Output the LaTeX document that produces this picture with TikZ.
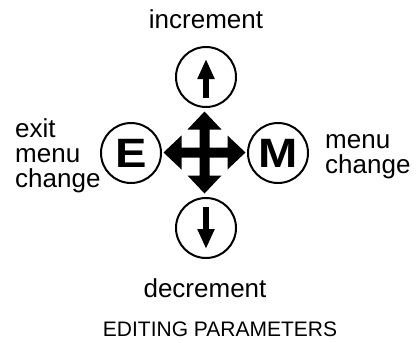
\documentclass[tikz,border=0pt]{standalone}
\usepackage{fontspec}
\usepackage{graphicx}
\setmainfont{Liberation Sans}
\usetikzlibrary{arrows.meta}
\begin{document}
\begin{tikzpicture}[x=1bp,y=-1bp,
  keycirc/.style={circle,draw,line width=2bp,minimum size=60bp,inner sep=0pt},
  keyletter/.style={font=\fontsize{41bp}{41bp}\selectfont\bfseries},
  lbl/.style={font=\fontsize{26bp}{25bp}\selectfont,inner sep=0pt},
  caption/.style={font=\fontsize{21bp}{21bp}\selectfont,inner sep=0pt},
  smallarrow/.style={line width=6bp,-{Triangle[length=20bp,width=16bp]}}]
\useasboundingbox (0,0) rectangle (420,343);

% key circles
\node[keycirc] (up) at (206,77) {};
\node[keycirc] (down) at (206,228) {};
\node[keycirc,keyletter] (E) at (131,153) {\scalebox{1.15}[1]{E}};
\node[keycirc,keyletter] (M) at (278,153) {\scalebox{1.15}[1]{M}};

% arrows inside the up/down circles
\draw[smallarrow] ([yshift=-21bp]up.center) -- ([yshift=18bp]up.center);
\draw[smallarrow] ([yshift=21bp]down.center) -- ([yshift=-21bp]down.center);

% four-way cross
\begin{scope}[shift={(204.5,152.5)}]
\fill (5,5) -- (23,5) -- (23,17) -- (41,0) -- (23,-17) -- (23,-5) -- (5,-5)
  -- (5,-23) -- (17,-23) -- (0,-41) -- (-17,-23) -- (-5,-23) -- (-5,-5)
  -- (-23,-5) -- (-23,-17) -- (-41,0) -- (-23,17) -- (-23,5) -- (-5,5)
  -- (-5,23) -- (-17,23) -- (0,41) -- (17,23) -- (5,23) -- cycle;
\end{scope}

% labels
\node[lbl,anchor=base] (inc) at (206,28) {increment};
\node[lbl,anchor=base] (dec) at (205,297) {decrement};
\node[lbl,anchor=base west] (exit1) at (15,137) {exit};
\node[lbl,anchor=base west] (exit2) at (15,162) {menu};
\node[lbl,anchor=base west] (exit3) at (15,187) {change};
\node[lbl,anchor=base west] (menu1) at (325,148) {menu};
\node[lbl,anchor=base west] (menu2) at (325,173) {change};
\node[caption,anchor=base] (cap) at (220,336) {EDITING PARAMETERS};
\end{tikzpicture}
\end{document}
